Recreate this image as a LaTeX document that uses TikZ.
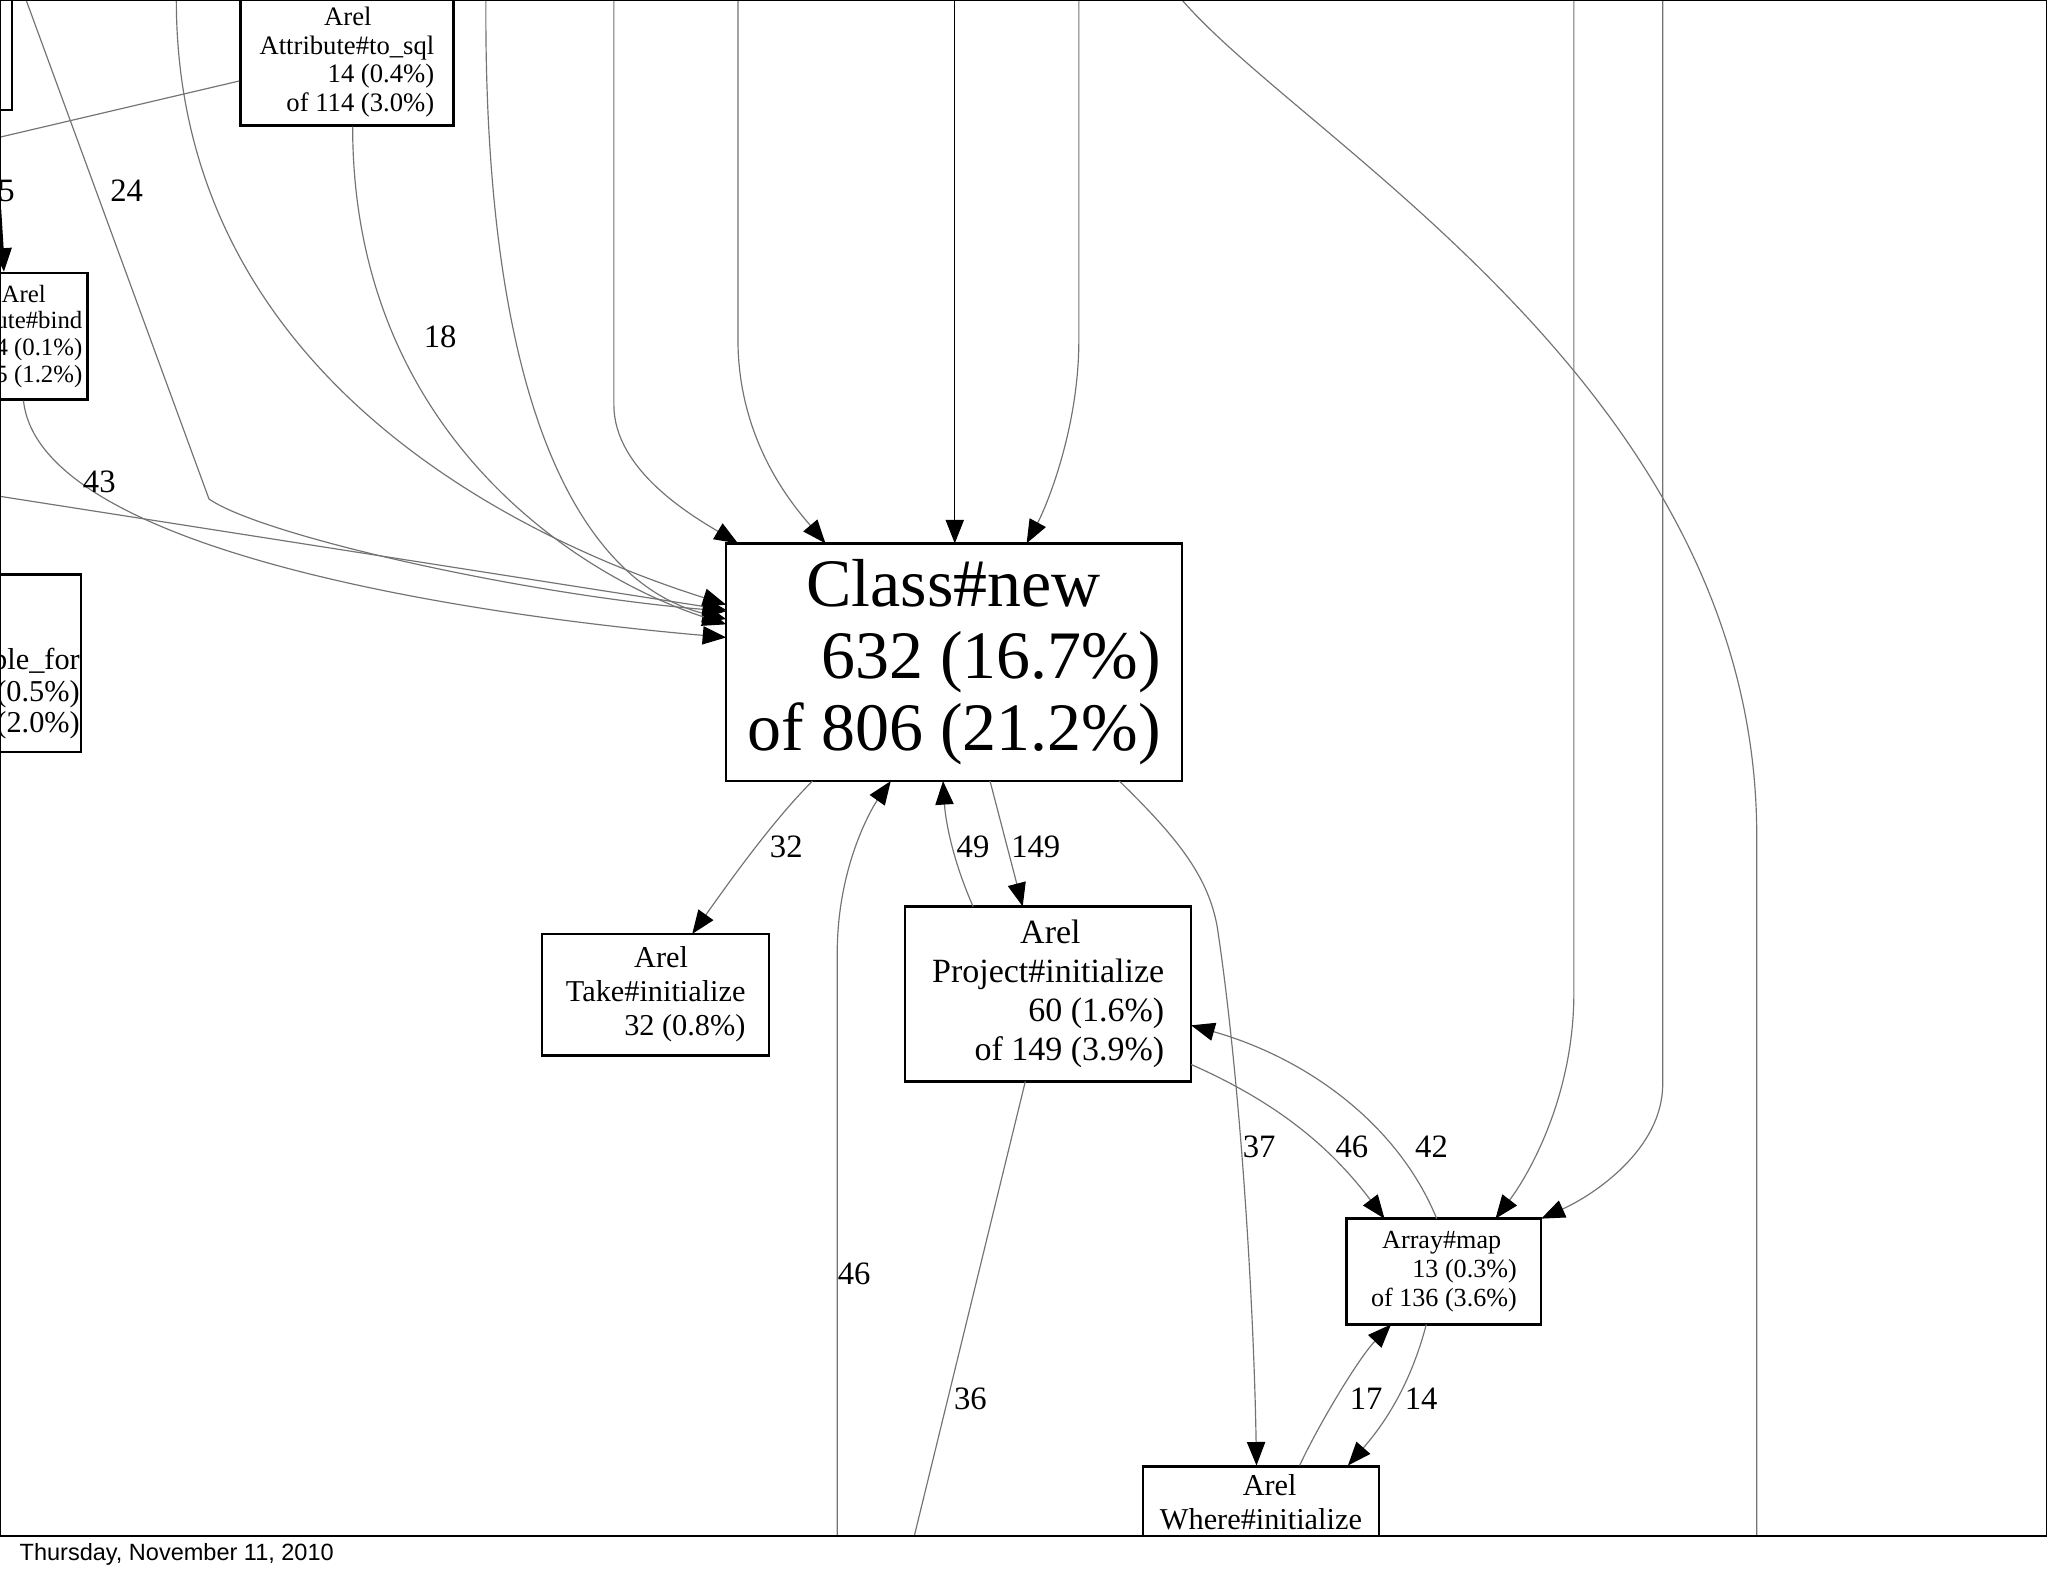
\documentclass[tikz,border=0pt]{standalone}
\usepackage{fontspec}
\setmainfont{Liberation Serif}
\newfontfamily\datefont{Liberation Sans}
\usetikzlibrary{arrows.meta}
\begin{document}
\begin{tikzpicture}[x=0.5pt,y=-0.5pt,
  box/.style={draw=black,line width=0.9pt,align=right,inner sep=0pt,font=\fontsize{11.6}{13}\selectfont},
  e/.style={draw=black!55,line width=0.45pt},
  a/.style={e,-{Triangle[length=9pt,width=7pt,fill=black,color=black]}},
  lab/.style={font=\fontsize{12.5}{14}\selectfont}]
\useasboundingbox (0,0) rectangle (1568,1206);
\begin{scope}
\clip (0,0) rectangle (1568,1176);
% nodes
\node[box,minimum width=174.5pt,minimum height=91pt,font=\fontsize{26}{27.5}\selectfont] (cn) at (730.5,507) {Class\#new\hspace*{23pt}\\632 (16.7\%)\\of 806 (21.2\%)};
\node[box,minimum width=87pt,minimum height=46.5pt] (take) at (502,761.5) {Arel\hspace*{22pt}\\Take\#initialize\\32 (0.8\%)};
\node[box,minimum width=109.5pt,minimum height=67pt,font=\fontsize{13}{15}\selectfont] (proj) at (802.5,761) {Arel\hspace*{32pt}\\Project\#initialize\\60 (1.6\%)\\of 149 (3.9\%)};
\node[box,minimum width=74.5pt,minimum height=40.5pt,font=\fontsize{10}{11}\selectfont] (map) at (1105.5,973.5) {Array\#map\hspace*{6pt}\\13 (0.3\%)\\of 136 (3.6\%)};
\node[box,minimum width=90.5pt,minimum height=40pt,anchor=north west] (where) at (874,1122) {Arel\hspace*{25pt}\\Where\#initialize\\\phantom{x}};
\node[box,minimum width=81.5pt,minimum height=48.5pt,anchor=south east,font=\fontsize{10.2}{11}\selectfont] (attr) at (348,97) {Arel\hspace*{24pt}\\Attribute\#to\_sql\\14 (0.4\%)\\of 114 (3.0\%)};
\node[box,minimum width=60pt,minimum height=48.5pt,anchor=north east,font=\fontsize{9.5}{10.2}\selectfont] (bind) at (68,208) {Arel\hspace*{14pt}\\Attribute\#bind\hspace*{3.5pt}\\4 (0.1\%)\\of 45 (1.2\%)};
\node[box,minimum width=60pt,minimum height=68pt,anchor=north east,font=\fontsize{11.6}{12}\selectfont] (tf) at (63,439) {\phantom{x}\\[14pt]table\_for\hspace*{8pt}\\19 (0.5\%)\\of 76 (2.0\%)};
\node[box,minimum width=40pt,minimum height=60pt,anchor=south east] (tl) at (10,85) {};
% coordinates
\coordinate (t1) at (20,0); \coordinate (t2) at (135,0); \coordinate (t3) at (372,0);
\coordinate (t4) at (470,0); \coordinate (t5) at (565,0); \coordinate (t6) at (731,0);
\coordinate (t7) at (826,0); \coordinate (t8) at (905,0); \coordinate (t9) at (1205,0);
\coordinate (t10) at (1273,0); \coordinate (l1) at (0,380); \coordinate (l2) at (0,105);
\coordinate (b1) at (641,1176); \coordinate (b2) at (700,1176); \coordinate (b3) at (1345,1176);
\coordinate (bt) at (0,160);
% edges into Class#new
\draw[a] (t1) -- (160,382) .. controls (200,410) and (400,455) .. (556,468);
\draw[a] (t2) .. controls (135,300) and (420,420) .. (556,463);
\draw[a] (t3) .. controls (370,380) and (480,455) .. (556,474);
\draw[a] (attr.south -| 270,0) .. controls (270,330) and (440,440) .. (556,478);
\draw[a] (bind.south -| 18,0) .. controls (30,420) and (350,470) .. (556,488);
\draw[a] (l1) -- (556,467);
\draw[e] (attr.west |- 0,62) -- (l2);
\draw[a] (t4) -- (470,310) .. controls (470,360) and (530,395) .. (565,416);
\draw[a] (t5) -- (565,260) .. controls (565,340) and (610,390) .. (632,416);
\draw[a,draw=black] (t6) -- (731,416);
\draw[a] (t7) -- (826,260) .. controls (826,330) and (800,390) .. (786,416);
\draw[a,line width=0.9pt,draw=black] (bt) -- (3,208);
\draw[e] (t8) .. controls (1000,110) and (1345,300) .. (1345,640) -- (b3);
\draw[a] (t9) -- (1205,760) .. controls (1205,840) and (1170,900) .. (1145,933);
\draw[a] (t10) -- (1273,830) .. controls (1273,880) and (1220,915) .. (1180,933);
% from Class#new
\draw[a] (622,598) .. controls (590,630) and (555,680) .. (530,715);
\draw[a] (758,598) -- (783,694);
\draw[a] (745,694) .. controls (730,660) and (724,630) .. (722,598);
\draw[a] (857,598) .. controls (900,640) and (925,670) .. (932,710) .. controls (950,830) and (960,1000) .. (962,1122);
\draw[a] (b1) -- (641,730) .. controls (641,660) and (670,615) .. (682,598);
\draw[e] (785,828) -- (b2);
\draw[a] (912,815) .. controls (980,845) and (1020,880) .. (1060,933);
\draw[a] (1100,933) .. controls (1070,860) and (1000,810) .. (912,785);
\draw[a] (995,1122) .. controls (1010,1090) and (1040,1040) .. (1065,1014);
\draw[a] (1092,1014) .. controls (1080,1060) and (1060,1090) .. (1032,1122);
% labels
\node[lab] (n1) at (5,146) {5};
\node[lab] (n2) at (97,146) {24};
\node[lab] (n3) at (337,258) {18};
\node[lab] (n4) at (76,369) {43};
\node[lab] (n5) at (602,648) {32};
\node[lab] (n6) at (745,648) {49};
\node[lab] (n7) at (793,648) {149};
\node[lab] (n8) at (964,878) {37};
\node[lab] (n9) at (1035,878) {46};
\node[lab] (n10) at (1096,878) {42};
\node[lab] (n11) at (654,975) {46};
\node[lab] (n12) at (743,1071) {36};
\node[lab] (n13) at (1046,1071) {17};
\node[lab] (n14) at (1088,1071) {14};
\end{scope}
\draw[black,line width=0.5pt] (0,0) rectangle (1567,1176);
\node[anchor=west,font=\datefont\fontsize{9}{11}\selectfont] (date) at (8,1190) {Thursday, November 11, 2010};
\end{tikzpicture}
\end{document}
